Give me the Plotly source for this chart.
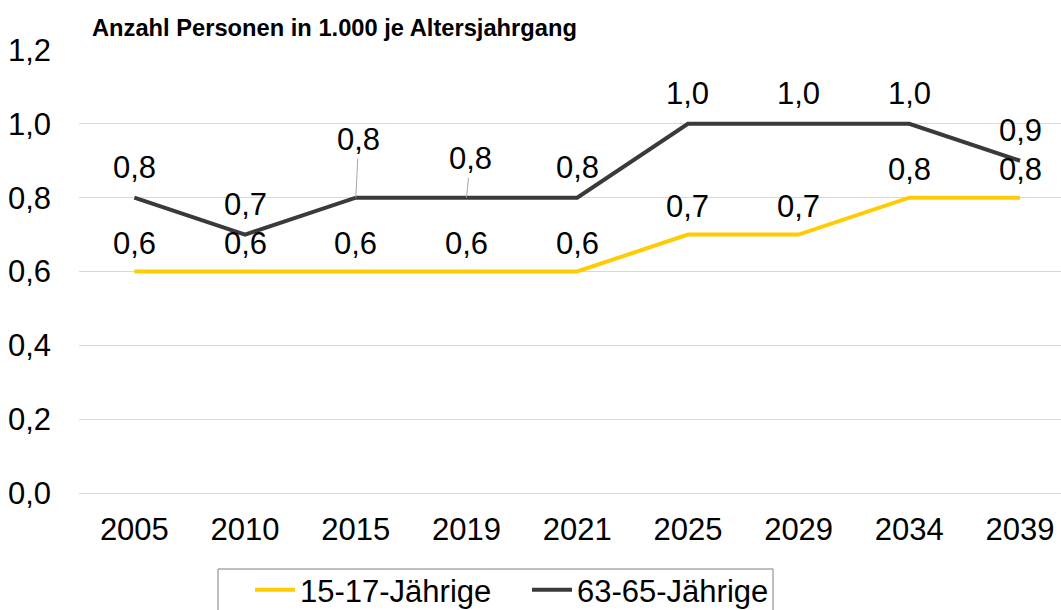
import plotly.graph_objects as go

years = ["2005", "2010", "2015", "2019", "2021", "2025", "2029", "2034", "2039"]
young = [0.6, 0.6, 0.6, 0.6, 0.6, 0.7, 0.7, 0.8, 0.8]
old = [0.8, 0.7, 0.8, 0.8, 0.8, 1.0, 1.0, 1.0, 0.9]
y_ticks = [0.0, 0.2, 0.4, 0.6, 0.8, 1.0, 1.2]

YELLOW = "#FFCC00"
DARK = "#3A3A3A"
FONT = "Liberation Sans, Arial, sans-serif"
FS = 31
idx = list(range(len(years)))

L, R, T, B = 79, 0, 50, 117
W, H = 1061, 610
pw, ph = W - L - R, H - T - B

fig = go.Figure()
fig.add_trace(go.Scatter(x=idx, y=young, mode="lines", name="15-17-Jährige",
                         line=dict(color=YELLOW, width=4)))
fig.add_trace(go.Scatter(x=idx, y=old, mode="lines", name="63-65-Jährige",
                         line=dict(color=DARK, width=4)))

def fmt(v):
    return f"{v:.1f}".replace(".", ",")

lab_font = dict(size=FS, color="black", family=FONT)
ann = []
for i, v in zip(idx, young):
    ann.append(dict(x=i, y=v, text=fmt(v), showarrow=False, yshift=28, font=lab_font))
leader = {"2015": (3, -58), "2019": (4, -39)}
for i, v in zip(idx, old):
    yr = years[i]
    if yr in leader:
        ax, ay = leader[yr]
        ann.append(dict(x=i, y=v, text=fmt(v), showarrow=True, arrowhead=0,
                        arrowwidth=1, arrowcolor="#a6a6a6", ax=ax, ay=ay,
                        standoff=0, startstandoff=0, font=lab_font))
    else:
        ann.append(dict(x=i, y=v, text=fmt(v), showarrow=False, yshift=30, font=lab_font))

ann.append(dict(xref="paper", yref="paper", x=(90 - L) / pw, y=(H - B - 28) / ph,
                xanchor="left", yanchor="middle", showarrow=False,
                text="<b>Anzahl Personen in 1.000 je Altersjahrgang</b>",
                font=dict(size=23.7, color="black", family=FONT)))

# legend frame
legend_box = dict(type="rect", xref="paper", yref="paper",
                  x0=(218 - L) / pw, x1=(773 - L) / pw,
                  y0=-(615 - (H - B)) / ph, y1=-(569 - (H - B)) / ph,
                  line=dict(color="#7f7f7f", width=1), fillcolor="rgba(0,0,0,0)")

fig.update_layout(
    width=W, height=H,
    margin=dict(l=L, r=R, t=T, b=B, autoexpand=False),
    paper_bgcolor="white", plot_bgcolor="white",
    separators=",.",
    font=dict(family=FONT, size=FS, color="black"),
    annotations=ann,
    shapes=[legend_box],
    showlegend=True,
    legend=dict(orientation="h", x=(250 - L) / pw, xanchor="left",
                y=-(563 - (H - B)) / ph, yanchor="top",
                bgcolor="rgba(0,0,0,0)", borderwidth=0, font=dict(size=FS),
                entrywidth=222, entrywidthmode="pixels", itemwidth=40,
                tracegroupgap=0),
    xaxis=dict(range=[-0.5, 8.37], tickvals=idx, ticktext=years, showgrid=False,
               zeroline=False, showline=False, ticks="", ticklabelstandoff=15,
               tickfont=dict(size=FS), automargin=False),
    yaxis=dict(range=[0, 1.2], tickvals=y_ticks, tickformat=".1f", showgrid=True,
               gridcolor="#d9d9d9", gridwidth=1, zeroline=True,
               zerolinecolor="#d9d9d9", zerolinewidth=1, showline=False,
               ticks="", ticklabelstandoff=27, tickfont=dict(size=FS), automargin=False),
)

fig.write_html("out.html", config={"displayModeBar": False},
               post_script="document.body.style.margin='0px';"
                           "document.body.style.overflow='hidden';")
